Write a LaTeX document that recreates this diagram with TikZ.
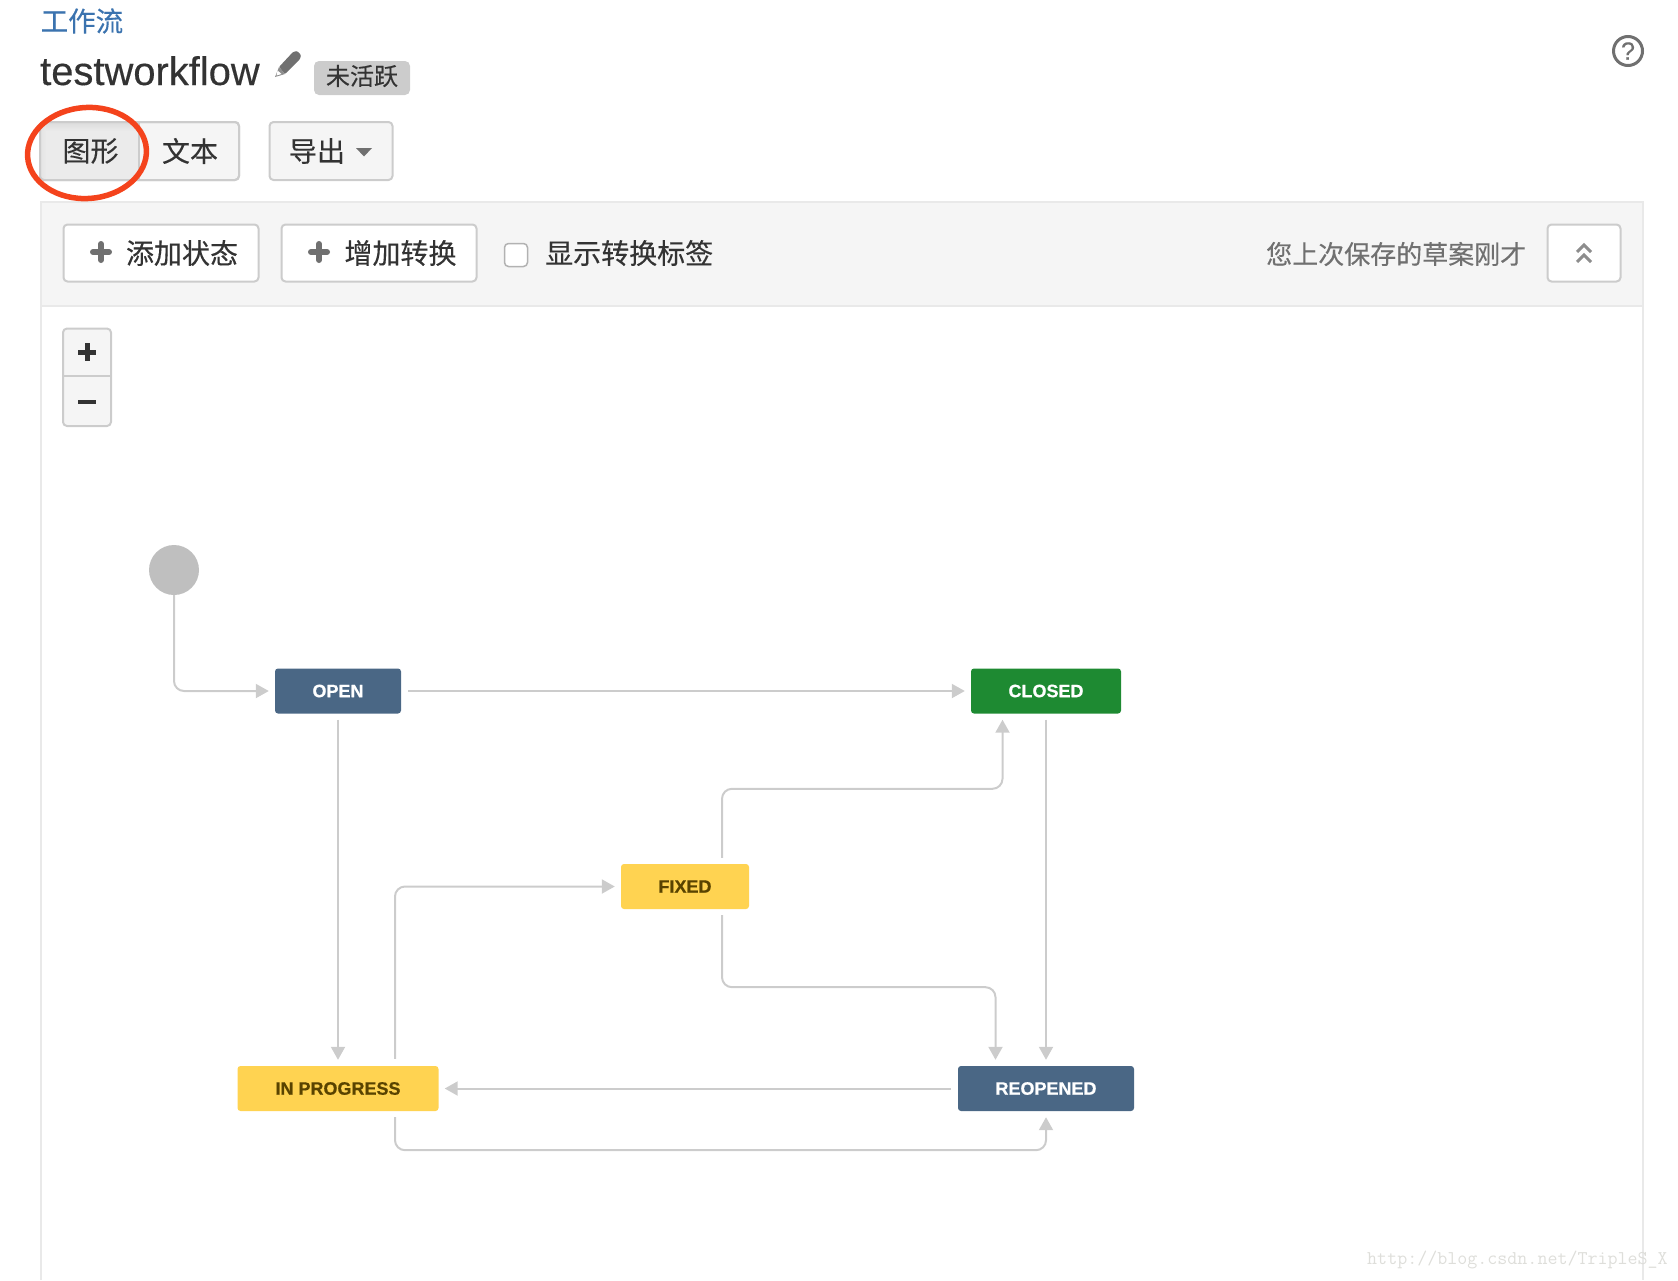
\documentclass[tikz,border=0pt]{standalone}
\usepackage{fontspec}
\setmainfont{Liberation Sans}
\newfontfamily\cjk[FakeBold=0.3]{Noto Sans CJK SC}
\newfontfamily\latinheavy[FakeBold=0.3]{Liberation Sans}
\newfontfamily\stfont[FakeBold=0.5]{Liberation Sans Bold}
\usetikzlibrary{arrows.meta,shapes.geometric}
\definecolor{linkblue}{HTML}{3B73AF}
\definecolor{ink}{HTML}{333333}
\definecolor{iconGrey}{HTML}{707070}
\definecolor{btnBorder}{HTML}{CCCCCC}
\definecolor{panelBg}{HTML}{F5F5F5}
\definecolor{panelLine}{HTML}{E9E9E9}
\definecolor{conn}{HTML}{CCCCCC}
\definecolor{stBlue}{HTML}{4A6785}
\definecolor{stGreen}{HTML}{1E8A32}
\definecolor{stYellow}{HTML}{FFD351}
\definecolor{stBrown}{HTML}{594300}
\definecolor{redMark}{HTML}{F4431C}
\definecolor{wm}{HTML}{DEDEDA}
\newcommand{\fs}[1]{\fontsize{#1}{#1}\selectfont}
\tikzset{
  cn/.style={font=\cjk\fs{#1},inner sep=0pt,text=ink},
  btn/.style={draw=btnBorder,line width=2pt,rounded corners=4pt,inner sep=0pt},
  state/.style={rounded corners=3pt,inner sep=0pt,minimum height=45pt,font=\stfont\fs{18}},
  bluest/.style={state,fill=stBlue,text=white},
  greenst/.style={state,fill=stGreen,text=white},
  yellowst/.style={state,fill=stYellow,text=stBrown},
  arr/.style={draw=conn,line width=2pt,rounded corners=10pt,-{Triangle[length=13pt,width=14pt]}},
  plusicon/.style={draw=iconGrey,line width=6pt,line cap=round},
}
\begin{document}
\begin{tikzpicture}[x=1pt,y=-1pt]
\useasboundingbox (0,0) rectangle (1678,1280);
% header
\node[cn=27.5,text=linkblue,anchor=west] (crumb) at (40.5,21) {工作流};
\node[anchor=base west,inner sep=0pt,text=ink,font=\latinheavy\fs{39.9}] (title) at (40,85) {testworkflow};
\fill[iconGrey,rounded corners=1pt] (279,67) -- (293,52) -- (297,51) -- (301,55) -- (300,59) -- (285,74) -- cycle;
\fill[iconGrey!80] (279,67) -- (275,77) -- (285,74) -- cycle;
\fill[white] (277.5,70.5) -- (276.5,75.5) -- (281.5,74) -- cycle;
\node[fill=btnBorder,rounded corners=5pt,minimum width=96pt,minimum height=34pt,inner sep=0pt] (badge) at (362,78) {};
\node[cn=24] (badgeTxt) at (362,76) {未活跃};
\node[circle,draw=iconGrey,line width=3pt,minimum size=29pt,inner sep=0pt,text=iconGrey,font=\latinheavy\fs{25}] (help) at (1628,51) {?};
% view tabs
\draw[btn,fill=panelBg] (40,122) rectangle (239,180);
\begin{scope}
\clip[rounded corners=4pt] (40,122) rectangle (139,180);
\fill[panelBg!96!black] (40,122) rectangle (139,180);
\shade[top color=black!14,bottom color=panelBg!96!black] (40,122) rectangle (139,131);
\shade[left color=black!12,right color=panelBg!96!black,opacity=.7] (40,122) rectangle (46,180);
\end{scope}
\draw[btnBorder,line width=2pt] (139,122) -- (139,180);
\draw[btnBorder,line width=2pt,rounded corners=4pt] (40,122) rectangle (239,180);
\node[cn=28] (tabGraph) at (90.5,151) {图形};
\node[cn=28] (tabText) at (190,151) {文本};
\node[btn,fill=panelBg,minimum width=123pt,minimum height=58pt] (exportBtn) at (331,151) {};
\node[cn=28] (exportTxt) at (317,151) {导出};
\fill[iconGrey] (356,148) -- (372,148) -- (364,156.5) -- cycle;
% panel
\draw[panelLine,line width=2pt] (41,1280) -- (41,202) -- (1643,202) -- (1643,1280);
\fill[panelBg] (42,203) rectangle (1642,305);
\draw[panelLine,line width=2pt] (41,306) -- (1643,306);
% toolbar
\node[btn,fill=white,minimum width=195pt,minimum height=57pt] (addState) at (161,253) {};
\draw[plusicon] (101,244) -- (101,260) (93,252) -- (109,252);
\node[cn=28] (addStateTxt) at (182,253) {添加状态};
\node[btn,fill=white,minimum width=195pt,minimum height=57pt] (addTrans) at (379,253) {};
\draw[plusicon] (319,244) -- (319,260) (311,252) -- (327,252);
\node[cn=28] (addTransTxt) at (400.5,253) {增加转换};
\node[draw=black!30,fill=white,line width=1.5pt,rounded corners=4pt,minimum width=23pt,minimum height=23pt,inner sep=0pt] (check) at (516,255) {};
\node[cn=28,anchor=west] (checkTxt) at (545,253) {显示转换标签};
\node[cn=26,text=iconGrey,anchor=west] (saved) at (1266,254) {您上次保存的草案刚才};
\node[btn,fill=white,minimum width=73pt,minimum height=57pt] (collapse) at (1584,253) {};
\draw[iconGrey!80,line width=3pt] (1577,252) -- (1584,245) -- (1591,252) (1577,262) -- (1584,255) -- (1591,262);
% zoom control
\draw[btn,fill=panelBg] (63,328.5) rectangle (111,426);
\draw[btnBorder,line width=2pt] (63,376) -- (111,376);
\draw[ink,line width=5pt] (87,343) -- (87,361) (78,352) -- (96,352);
\draw[ink,line width=4pt] (78,402) -- (96,402);
% workflow states
\node[circle,fill=black!25,minimum size=50pt,inner sep=0pt] (start) at (174,570) {};
\node[bluest,minimum width=126pt] (open) at (338,691) {OPEN};
\node[greenst,minimum width=150pt] (closed) at (1046,691) {CLOSED};
\node[yellowst,minimum width=128pt] (fixed) at (685,886.5) {FIXED};
\node[yellowst,minimum width=201pt] (inprogress) at (338,1088.5) {IN PROGRESS};
\node[bluest,minimum width=176pt] (reopened) at (1046,1088.5) {REOPENED};
% connectors
\draw[arr,shorten >=6pt] (start.south) |- (open.west);
\draw[arr,shorten <=7pt,shorten >=6pt] (open.east) -- (closed.west);
\draw[arr,shorten <=6pt,shorten >=6pt] (open.south) -- (inprogress.north);
\draw[arr,shorten <=6pt,shorten >=6pt] (closed.south) -- (reopened.north);
\draw[arr,shorten <=7pt,shorten >=6pt] (reopened.west) -- (inprogress.east);
\draw[arr,shorten <=6pt,shorten >=6pt] ([xshift=37pt]fixed.north) -- ++(0,-75) -| ([xshift=-43.5pt]closed.south);
\draw[arr,shorten <=7pt,shorten >=6pt] ([xshift=57pt]inprogress.north) |- (fixed.west);
\draw[arr,shorten <=6pt,shorten >=6pt] ([xshift=37pt]fixed.south) -- ++(0,78) -| ([xshift=-50.5pt]reopened.north);
\draw[arr,shorten <=6pt,shorten >=6pt] ([xshift=57pt]inprogress.south) -- ++(0,39) -| (reopened.south);
% red annotation
\node[draw=redMark,line width=5.5pt,ellipse,minimum width=119pt,minimum height=91pt,inner sep=0pt,rotate=4] (mark) at (87,153) {};
% watermark
\node[anchor=west,inner sep=0pt,text=wm,font=\ttfamily\fs{19.45}] (watermark) at (1367,1260) {http://blog.csdn.net/TripleS\_X};
\end{tikzpicture}
\end{document}
